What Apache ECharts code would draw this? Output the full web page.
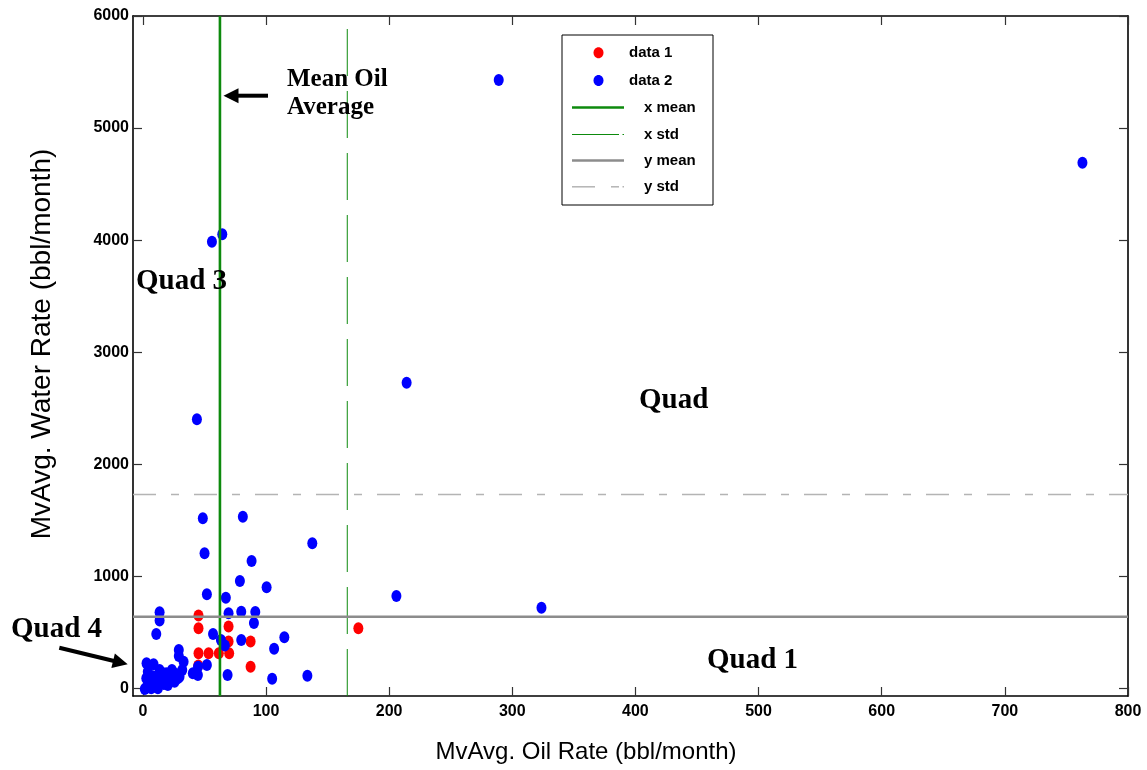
<!DOCTYPE html>
<html>
<head>
<meta charset="utf-8">
<title>MvAvg. Water Rate vs Oil Rate</title>
<script src="https://cdn.jsdelivr.net/npm/echarts@6/dist/echarts.min.js"></script>
<style>
  html, body { margin: 0; padding: 0; background: #fff; }
  #chart { width: 1147px; height: 770px; }
</style>
</head>
<body>
<div id="chart"></div>
<script>
// Axis ranges and tick values
const X_MIN = -8, X_MAX = 800;
const Y_MIN = -67, Y_MAX = 6000;
const xTicks = [0, 100, 200, 300, 400, 500, 600, 700, 800];
const yTicks = [0, 1000, 2000, 3000, 4000, 5000, 6000];

// Reference statistics (bbl/month)
const xMean = 62.6;
const xStd = 166;
const yMean = 640;
const yStd = 1730;

// data 1: [oil rate, water rate]
const data1 = [
  [45.2, 651], [45.2, 538], [69.6, 553], [69.6, 419], [87.5, 419],
  [45.2, 315], [53.4, 315], [61.7, 315], [70.1, 315], [87.5, 195],
  [45.0, 205], [175, 538]
];

// data 2: [oil rate, water rate]
const data2 = [
  [289, 5430], [763, 4690], [56.1, 3986], [64.5, 4052], [214.2, 2728],
  [43.9, 2402], [48.7, 1519], [81.2, 1533], [137.6, 1296], [50.1, 1206],
  [88.3, 1138], [78.8, 959], [100.5, 903], [52.0, 840], [67.4, 810],
  [205.9, 825], [323.7, 721], [13.6, 680], [13.6, 607], [69.6, 671],
  [79.9, 685], [91.3, 683], [90.2, 584], [10.9, 486], [57.0, 486],
  [63.4, 433], [66.6, 384], [79.9, 433], [114.9, 457], [106.6, 355],
  [29.2, 344], [29.2, 290], [33.1, 239], [52.0, 210], [68.8, 120],
  [105.0, 87], [133.6, 114], [44.8, 195], [44.7, 120], [40.6, 136],
  [3.0, 225], [8.7, 216], [2.8, 91], [1.6, -4], [6.8, 2],
  [13.6, 165], [19.0, 136], [23.6, 165], [14.9, 76], [12.2, 2],
  [20.3, 31], [25.8, 61], [29.8, 105], [32.0, 165], [5.4, 46],
  [16.2, 136], [19.0, 76], [24.4, 76], [28.4, 91], [8.0, 110],
  [10.0, 60], [17.0, 40], [22.0, 110], [27.0, 130], [4.0, 150],
  [15.0, 120], [3.5, 20]
];

const SANS = '"Liberation Sans", Arial, sans-serif';
const SERIF = '"Liberation Serif", "Times New Roman", serif';

const chart = echarts.init(document.getElementById('chart'), null, { renderer: 'canvas' });

function boxAxis(pos, min, max, ticks, extra) {
  return Object.assign({
    type: 'value',
    position: pos,
    min: min,
    max: max,
    axisLine: { show: true, onZero: false, lineStyle: { color: '#000', width: 1.6 } },
    axisTick: { show: true, inside: true, length: 9, customValues: ticks, lineStyle: { color: '#333', width: 1.2 } },
    axisLabel: { show: false },
    splitLine: { show: false }
  }, extra || {});
}

function tickLabels(ticks, margin) {
  return { show: true, customValues: ticks, margin: margin, color: '#000',
    fontFamily: SANS, fontWeight: 'bold', fontSize: 16,
    formatter: function (v) { return String(v); } };
}

// Arrow annotation made of a shaft and a filled head
function arrow(x1, y1, x2, y2, width) {
  const dx = x2 - x1, dy = y2 - y1, L = Math.hypot(dx, dy);
  const ux = dx / L, uy = dy / L;
  const hl = 15, hw = 7.5;
  const bx = x2 - ux * hl, by = y2 - uy * hl;
  return [
    { type: 'line', z: 100, shape: { x1: x1, y1: y1, x2: bx + ux * 2, y2: by + uy * 2 },
      style: { stroke: '#000', lineWidth: width } },
    { type: 'polygon', z: 100, shape: { points: [[x2, y2], [bx - uy * hw, by + ux * hw], [bx + uy * hw, by - ux * hw]] },
      style: { fill: '#000' } }
  ];
}

function label(text, x, y, size) {
  return { type: 'text', z: 100, x: x, y: y,
    style: { text: text, font: 'bold ' + size + 'px ' + SERIF, fill: '#000', verticalAlign: 'middle', align: 'left' } };
}

// Legend box
const LX = 562, LY = 35, LW = 151, LH = 170;
const legendItems = [];
legendItems.push({ type: 'rect', z: 110, shape: { x: LX, y: LY, width: LW, height: LH },
  style: { fill: '#fff', stroke: '#000', lineWidth: 1 } });
const legendText = (t, x, y) => ({ type: 'text', z: 111, x: x, y: y,
  style: { text: t, font: 'bold 15px ' + SANS, fill: '#000', verticalAlign: 'middle', align: 'left' } });
legendItems.push({ type: 'ellipse', z: 111, shape: { cx: 598.5, cy: 52.7, rx: 5, ry: 5.5 }, style: { fill: '#ff0000' } });
legendItems.push(legendText('data 1', 629, 52.7));
legendItems.push({ type: 'ellipse', z: 111, shape: { cx: 598.5, cy: 80.5, rx: 5, ry: 5.5 }, style: { fill: '#0000ff' } });
legendItems.push(legendText('data 2', 629, 80.5));
legendItems.push({ type: 'line', z: 111, shape: { x1: 572, y1: 107.5, x2: 624, y2: 107.5 }, style: { stroke: '#0d8a0d', lineWidth: 2.6 } });
legendItems.push(legendText('x mean', 644, 107.5));
legendItems.push({ type: 'line', z: 111, shape: { x1: 572, y1: 134.5, x2: 619, y2: 134.5 }, style: { stroke: '#0d8a0d', lineWidth: 1 } });
legendItems.push({ type: 'line', z: 111, shape: { x1: 622.5, y1: 134.5, x2: 624, y2: 134.5 }, style: { stroke: '#0d8a0d', lineWidth: 1 } });
legendItems.push(legendText('x std', 644, 134.5));
legendItems.push({ type: 'line', z: 111, shape: { x1: 572, y1: 160.5, x2: 624, y2: 160.5 }, style: { stroke: '#8c8c8c', lineWidth: 2.6 } });
legendItems.push(legendText('y mean', 644, 160.5));
legendItems.push({ type: 'line', z: 111, shape: { x1: 572, y1: 186.8, x2: 595, y2: 186.8 }, style: { stroke: '#b4b4b4', lineWidth: 1.5 } });
legendItems.push({ type: 'line', z: 111, shape: { x1: 611, y1: 186.8, x2: 619, y2: 186.8 }, style: { stroke: '#b4b4b4', lineWidth: 1.5 } });
legendItems.push({ type: 'line', z: 111, shape: { x1: 622.5, y1: 186.8, x2: 624, y2: 186.8 }, style: { stroke: '#b4b4b4', lineWidth: 1.5 } });
legendItems.push(legendText('y std', 644, 186.8));

// Axis titles
const axisTitles = [
  { type: 'text', z: 100, x: 586, y: 752,
    style: { text: 'MvAvg. Oil Rate (bbl/month)', font: '24px ' + SANS, fill: '#000', align: 'center', verticalAlign: 'middle' } },
  { type: 'text', z: 100, x: 42, y: 344, rotation: Math.PI / 2,
    style: { text: 'MvAvg. Water Rate (bbl/month)', font: '28px ' + SANS, fill: '#000', align: 'center', verticalAlign: 'middle' } }
];

const annotations = []
  .concat(arrow(268, 95.7, 223.5, 95.7, 4))
  .concat(arrow(59.3, 647.7, 127.7, 664.3, 4))
  .concat([
    label('Mean Oil', 287, 80, 25),
    label('Average', 287, 108, 25),
    label('Quad 3', 136, 282, 29),
    label('Quad', 639, 401, 29),
    label('Quad 4', 11, 630, 29),
    label('Quad 1', 707, 661, 29)
  ]);

const option = {
  animation: false,
  backgroundColor: '#fff',
  grid: { left: 133, right: 19, top: 16, bottom: 74, containLabel: false },
  xAxis: [
    boxAxis('bottom', X_MIN, X_MAX, xTicks, { axisLabel: tickLabels(xTicks, 8) }),
    boxAxis('top', X_MIN, X_MAX, xTicks)
  ],
  yAxis: [
    boxAxis('left', Y_MIN, Y_MAX, yTicks, { axisLabel: tickLabels(yTicks, 4) }),
    boxAxis('right', Y_MIN, Y_MAX, yTicks)
  ],
  series: [
    { name: 'data 1', type: 'scatter', data: data1, symbol: 'circle', symbolSize: [10, 12],
      itemStyle: { color: '#ff0000', opacity: 1 }, z: 2, silent: true },
    { name: 'data 2', type: 'scatter', data: data2, symbol: 'circle', symbolSize: [10, 12],
      itemStyle: { color: '#0000ff', opacity: 1 }, z: 3, silent: true },
    { name: 'x mean', type: 'line', data: [[xMean, Y_MIN], [xMean, Y_MAX]], showSymbol: false, symbol: 'none',
      lineStyle: { color: '#0d8a0d', width: 2.6 }, z: 5, silent: true },
    { name: 'x std', type: 'line', data: [[xStd, Y_MIN], [xStd, Y_MAX]], showSymbol: false, symbol: 'none',
      lineStyle: { color: '#0d8a0d', width: 1, type: [47, 15] }, z: 5, silent: true },
    { name: 'y mean', type: 'line', data: [[X_MIN, yMean], [X_MAX, yMean]], showSymbol: false, symbol: 'none',
      lineStyle: { color: '#8c8c8c', width: 2.6 }, z: 5, silent: true },
    { name: 'y std', type: 'line', data: [[X_MIN, yStd], [X_MAX, yStd]], showSymbol: false, symbol: 'none',
      lineStyle: { color: '#b4b4b4', width: 1.5, type: [23, 15, 8, 15] }, z: 5, silent: true }
  ],
  graphic: annotations.concat(axisTitles, legendItems)
};

chart.setOption(option);
</script>
</body>
</html>
